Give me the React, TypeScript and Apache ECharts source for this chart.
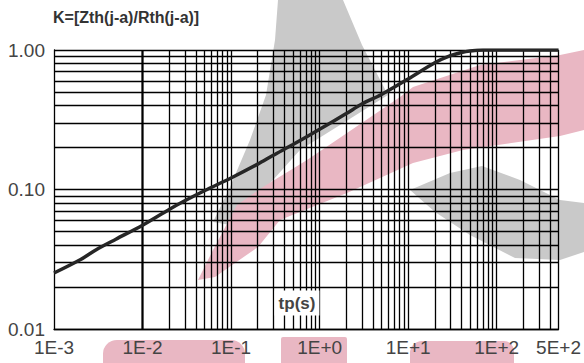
import React, { useEffect, useRef } from "react";
import * as echarts from "echarts";

// Curve: K = Zth(j-a)/Rth(j-a) versus pulse duration tp (s)
const tpSeconds = [0.001, 0.002, 0.003, 0.005, 0.01, 0.02, 0.03, 0.05, 0.1, 0.2, 0.3, 0.5, 1, 2, 3, 5, 10, 20, 30, 40, 50, 70, 100, 200, 500];
const kValues = [0.0252, 0.0315, 0.037, 0.044, 0.0555, 0.072, 0.083, 0.098, 0.121, 0.152, 0.176, 0.21, 0.27, 0.35, 0.41, 0.48, 0.62, 0.81, 0.91, 0.96, 0.985, 1.0, 1.0, 1.0, 1.0];

// Tick labels
const xTickValues = [0.001, 0.01, 0.1, 1, 10, 100, 500];
const xTickLabels = ["1E-3", "1E-2", "1E-1", "1E+0", "1E+1", "1E+2", "5E+2"];
const yTickValues = [0.01, 0.1, 1];
const yTickLabels = ["0.01", "0.10", "1.00"];

// Log grid lines
const xGridValues = [
  0.001, 0.002, 0.003, 0.004, 0.005, 0.006, 0.007, 0.008, 0.009,
  0.01, 0.02, 0.03, 0.04, 0.05, 0.06, 0.07, 0.08, 0.09,
  0.1, 0.2, 0.3, 0.4, 0.5, 0.6, 0.7, 0.8, 0.9,
  1, 2, 3, 4, 5, 6, 7, 8, 9,
  10, 20, 30, 40, 50, 60, 70, 80, 90,
  100, 200, 300, 400, 500,
];
const yGridValues = [
  0.01, 0.02, 0.03, 0.04, 0.05, 0.06, 0.07, 0.08, 0.09,
  0.1, 0.2, 0.3, 0.4, 0.5, 0.6, 0.7, 0.8, 0.9, 1.0,
];

const titleText = "K=[Zth(j-a)/Rth(j-a)]";
const xAxisTitle = "tp(s)";

// Decorative watermark shapes (pixel space)
const PINK = "#e9b7c3";
const GREY = "#c9c9c9";
const watermark = [
  { fill: GREY, pts: [[278, 0], [343, 0], [362, 45], [388, 95], [300, 150], [255, 200], [236, 226], [213, 222], [230, 187], [250, 140], [266, 95], [275, 40]] },
  { fill: PINK, pts: [[198, 280], [213, 250], [237, 205], [263, 187], [307, 160], [347, 133], [400, 97], [413, 87], [480, 65], [560, 55], [584, 50], [584, 130], [560, 136], [463, 150], [413, 163], [347, 193], [280, 220], [258, 247], [215, 277]] },
  { fill: GREY, pts: [[410, 190], [450, 173], [482, 166], [520, 180], [560, 200], [584, 203], [584, 252], [560, 260], [515, 258], [470, 235], [435, 212]] },
];
const bottomBlobs = [
  { x: 103, y: 340, w: 142, h: 30, r: [14, 14, 0, 0] },
  { x: 281, y: 337, w: 66, h: 30, r: [2, 2, 0, 0] },
  { x: 410, y: 341, w: 104, h: 30, r: [12, 10, 0, 0] },
];

const FONT = "Liberation Sans, Arial, sans-serif";

function labelFor(v: number, values: number[], labels: string[]) {
  let best = 0;
  let bd = Infinity;
  values.forEach((t, i) => {
    const d = Math.abs(Math.log10(v) - Math.log10(t));
    if (d < bd) { bd = d; best = i; }
  });
  return bd < 0.02 ? labels[best] : "";
}

export default function App() {
  const ref = useRef<HTMLDivElement>(null);
  useEffect(() => {
    if (!ref.current) return;
    const chart = echarts.init(ref.current, undefined, { renderer: "svg" });
    const graphics: any[] = [];
    watermark.forEach((w) =>
      graphics.push({ type: "polygon", z: -10, silent: true, shape: { points: w.pts }, style: { fill: w.fill } })
    );
    bottomBlobs.forEach((b) =>
      graphics.push({ type: "rect", z: -10, silent: true, shape: { x: b.x, y: b.y, width: b.w, height: b.h, r: b.r }, style: { fill: PINK } })
    );
    graphics.push({
      type: "text",
      z: 100,
      x: 297,
      y: 303,
      style: {
        text: xAxisTitle,
        fill: "#444",
        font: `bold 17px ${FONT}`,
        align: "center",
        verticalAlign: "middle",
        backgroundColor: "#fff",
        padding: [5, 4, 3, 4],
      },
    });

    chart.setOption({
      animation: false,
      backgroundColor: "#fff",
      title: {
        text: titleText,
        left: 53,
        top: 9,
        padding: 0,
        textStyle: { fontFamily: FONT, fontSize: 16, fontWeight: "bold", color: "#333" },
      },
      grid: { left: 54, right: 24, top: 50, bottom: 34, show: false },
      xAxis: {
        type: "log",
        logBase: 10,
        min: 0.001,
        max: 500,
        splitNumber: 6,
        axisLine: { show: true, lineStyle: { color: "#000", width: 1.3 } },
        axisTick: { show: false },
        splitLine: { show: false },
        axisLabel: {
          margin: 9,
          color: "#444",
          fontFamily: FONT,
          fontSize: 19,
          showMinLabel: true,
          showMaxLabel: true,
          formatter: (v: number) => labelFor(v, xTickValues, xTickLabels),
        },
      },
      yAxis: {
        type: "log",
        logBase: 10,
        min: 0.01,
        max: 1,
        axisLine: { show: true, lineStyle: { color: "#000", width: 1.3 } },
        axisTick: { show: false },
        splitLine: { show: false },
        axisLabel: {
          margin: 9,
          color: "#444",
          fontFamily: FONT,
          fontSize: 19,
          formatter: (v: number) => labelFor(v, yTickValues, yTickLabels),
        },
      },
      graphic: graphics,
      series: [
        {
          type: "line",
          name: "grid",
          data: [],
          silent: true,
          markLine: {
            silent: true,
            symbol: ["none", "none"],
            label: { show: false },
            emphasis: { disabled: true },
            lineStyle: { color: "#000", width: 1.3, type: "solid" },
            data: [
              ...xGridValues.map((v) => ({ xAxis: v })),
              ...yGridValues.map((v) => ({ yAxis: v })),
            ],
          },
        },
        {
          type: "line",
          name: "K",
          z: 5,
          data: tpSeconds.map((t, i) => [t, kValues[i]]),
          smooth: 0.3,
          showSymbol: false,
          lineStyle: { color: "#262626", width: 3.5 },
        },
      ],
    });
    return () => chart.dispose();
  }, []);
  return <div ref={ref} style={{ width: 584, height: 363, position: "absolute", left: 0, top: 0 }} />;
}
